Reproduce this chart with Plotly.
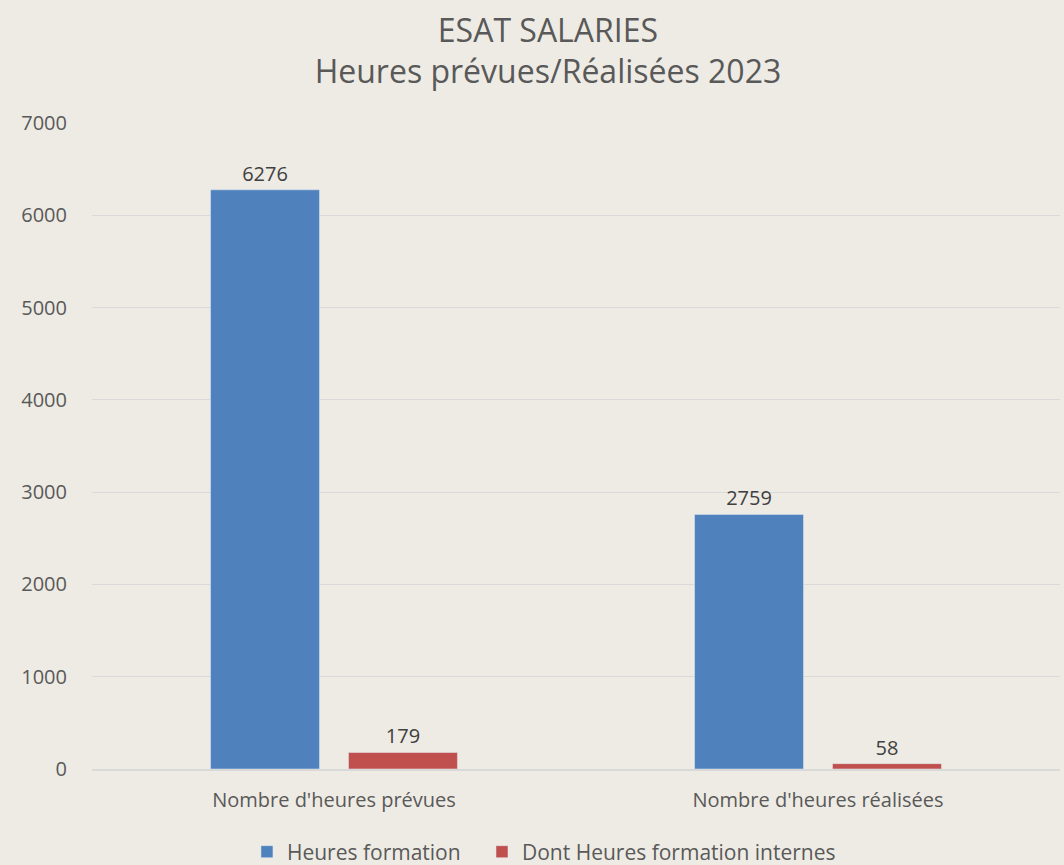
import plotly.graph_objects as go

categories = ["Nombre d'heures prévues", "Nombre d'heures réalisées"]
heures_formation = [6276, 2759]
heures_internes = [179, 58]
series_names = ["Heures formation", "Dont Heures formation internes"]
y_ticks = [0, 1000, 2000, 3000, 4000, 5000, 6000, 7000]

FONT = "Open Sans"
fig = go.Figure()
fig.add_trace(go.Bar(
    x=categories, y=heures_formation, name=series_names[0],
    marker=dict(color="#4F81BD"), legend="legend",
    text=[str(v) for v in heures_formation], textposition="outside",
    textfont=dict(size=20, color="#404040", family=FONT), cliponaxis=False,
))
fig.add_trace(go.Bar(
    x=categories, y=heures_internes, name=series_names[1],
    marker=dict(color="#C0504D"), legend="legend2",
    text=[str(v) for v in heures_internes], textposition="outside",
    textfont=dict(size=20, color="#404040", family=FONT), cliponaxis=False,
))

legend_common = dict(orientation="h", xanchor="left", y=0.015, yanchor="middle",
                     xref="container", yref="container", bgcolor="rgba(0,0,0,0)",
                     font=dict(size=21, color="#595959"))

fig.update_layout(
    width=1064, height=865,
    paper_bgcolor="#EEEBE4", plot_bgcolor="#EEEBE4",
    font=dict(family=FONT, color="#595959", size=18),
    title=dict(text="ESAT SALARIES<br>Heures prévues/Réalisées 2023",
               x=0.515, xanchor="center", xref="container", y=0.952, yanchor="middle",
               font=dict(size=32, color="#595959", family=FONT)),
    barmode="group", bargap=0.43, bargroupgap=0.21,
    margin=dict(l=92, r=4, t=123, b=96, autoexpand=False),
    showlegend=True,
    legend=dict(x=0.2321, **legend_common),
    legend2=dict(x=0.453, **legend_common),
    xaxis=dict(showgrid=False, showline=True, linecolor="#D9D9D9", linewidth=1.5,
               ticks="", tickfont=dict(size=20, color="#595959"), ticklabelstandoff=12,
               automargin=False),
    yaxis=dict(range=[0, 7000], tickvals=y_ticks, showgrid=True, gridcolor="#D9D9D9",
               gridwidth=1.3, zeroline=False, showline=False, ticks="",
               tickfont=dict(size=20, color="#595959"), ticklabelstandoff=24,
               automargin=False),
)

fig.write_html("out.html", config={"displayModeBar": False},
               post_script="document.body.style.margin='0';")
